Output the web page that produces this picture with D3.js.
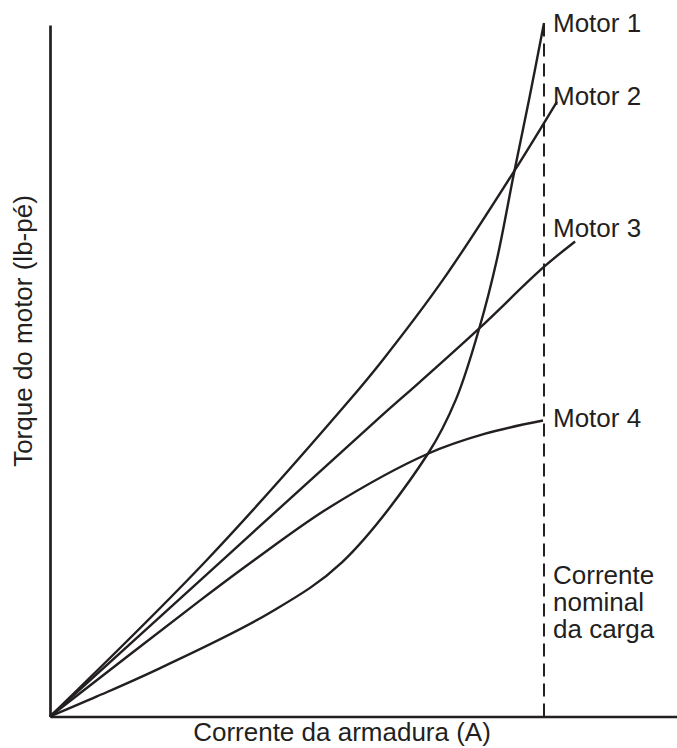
<!DOCTYPE html>
<html>
<head>
<meta charset="utf-8">
<script src="https://cdn.jsdelivr.net/npm/d3@7"></script>
<style>
  body { margin: 0; background: #fff; }
  text { font-family: "Liberation Sans", Arial, sans-serif; fill: #231f20; }
</style>
</head>
<body>
<svg width="677" height="748"></svg>
<script>
// values (current in % of rated current, torque in % of axis height)
const motorNames = ["Motor 1", "Motor 2", "Motor 3", "Motor 4"];
const motor1Current = [0, 9.5, 22.3, 44.5, 59.1, 76.5, 82.2, 87.0, 90.5, 93.9, 97.0, 100];
const motor1Torque = [0, 2.9, 7.0, 15.0, 22.3, 38.0, 45.9, 56.4, 66.2, 78.5, 89.3, 100.3];
const motor2Current = [0, 31.7, 60.7, 67.4, 79.5, 93.9, 102.6];
const motor2Torque = [0, 22.6, 45.8, 51.6, 63.1, 78.8, 88.9];
const motor3Current = [0, 35.2, 66.8, 74.9, 87.0, 99.8, 106.3];
const motor3Torque = [0, 22.8, 43.3, 48.4, 56.2, 64.9, 68.7];
const motor4Current = [0, 30.4, 41.3, 56.7, 76.5, 88.1, 99.8];
const motor4Torque = [0, 16.8, 22.6, 30.3, 38.0, 40.9, 42.8];
const ratedCurrent = 100;
const ratedLabel = ["Corrente", "nominal", "da carga"];

const svg = d3.select("svg");
const width = +svg.attr("width");
const height = +svg.attr("height");

const x = d3.scaleLinear().domain([0, 100]).range([50, 544]);
const y = d3.scaleLinear().domain([0, 100]).range([716.5, 25]);

const series = [
  [motor1Current, motor1Torque],
  [motor2Current, motor2Torque],
  [motor3Current, motor3Torque],
  [motor4Current, motor4Torque],
].map(([cs, ts], i) => ({
  name: motorNames[i],
  points: cs.map((c, j) => ({ c, t: ts[j] })),
}));

// axes (no ticks in the original)
const xAxis = d3.axisBottom(x.copy().range([x(0), width])).tickValues([]).tickSizeOuter(0);
svg.append("g")
  .attr("transform", `translate(0,${y(0)})`)
  .call(xAxis)
  .select(".domain")
  .attr("stroke", "#231f20")
  .attr("stroke-width", 2.7);

const yAxis = d3.axisLeft(y).tickValues([]).tickSizeOuter(0);
svg.append("g")
  .attr("transform", `translate(${x(0)},0)`)
  .call(yAxis)
  .select(".domain")
  .attr("stroke", "#231f20")
  .attr("stroke-width", 2.7);

// rated current dashed line
svg.append("line")
  .attr("x1", x(ratedCurrent))
  .attr("x2", x(ratedCurrent))
  .attr("y1", y(0))
  .attr("y2", y(100.3))
  .attr("stroke", "#231f20")
  .attr("stroke-width", 2)
  .attr("stroke-dasharray", "13,7");

// curves
const line = d3.line()
  .x((d) => x(d.c))
  .y((d) => y(d.t))
  .curve(d3.curveCatmullRom.alpha(0.5));

svg.selectAll("path.motor")
  .data(series)
  .enter()
  .append("path")
  .attr("class", "motor")
  .attr("d", (d) => line(d.points))
  .attr("fill", "none")
  .attr("stroke", "#231f20")
  .attr("stroke-width", 2.4);

// curve labels
const labelY = [31.7, 105, 236.7, 426.7];
svg.selectAll("text.motor-label")
  .data(series)
  .enter()
  .append("text")
  .attr("class", "motor-label")
  .attr("x", x(ratedCurrent) + 9)
  .attr("y", (d, i) => labelY[i])
  .style("font-size", "26px")
  .text((d) => d.name);

// rated current label
svg.append("text")
  .attr("x", x(ratedCurrent) + 9)
  .attr("y", 584)
  .style("font-size", "26px")
  .selectAll("tspan")
  .data(ratedLabel)
  .enter()
  .append("tspan")
  .attr("x", x(ratedCurrent) + 9)
  .attr("dy", (d, i) => (i === 0 ? 0 : 27))
  .text((d) => d);

// axis titles
svg.append("text")
  .attr("x", 342)
  .attr("y", 741)
  .attr("text-anchor", "middle")
  .style("font-size", "26px")
  .text("Corrente da armadura (A)");

svg.append("text")
  .attr("transform", "translate(32,331) rotate(-90)")
  .attr("text-anchor", "middle")
  .style("font-size", "26px")
  .text("Torque do motor (lb-pé)");
</script>
</body>
</html>
